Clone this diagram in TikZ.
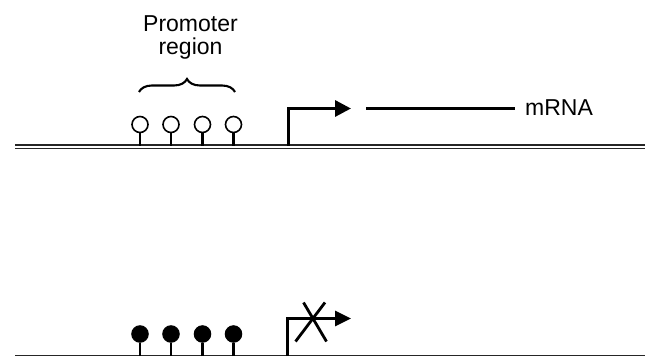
\documentclass[tikz,border=0pt]{standalone}
\usepackage{fontspec}
\setmainfont{Liberation Sans}
\usetikzlibrary{arrows.meta,decorations.pathreplacing}
\begin{document}
\begin{tikzpicture}[x=1pt,y=-1pt,
  dnarule/.style={line width=1.1pt, black!85},
  stem/.style={line width=2.2pt},
  openlolly/.style={circle, draw, line width=1.6pt, minimum size=16pt, inner sep=0pt, fill=white},
  filllolly/.style={circle, fill=black, draw, line width=1pt, minimum size=16.5pt, inner sep=0pt},
  promoter/.style={line width=3.2pt, -{Triangle[length=16pt,width=16pt]}},
  lbl/.style={font=\fontsize{23}{27}\selectfont, inner sep=0pt}]
\useasboundingbox (0,0) rectangle (645,358);
% top DNA
\coordinate (tl1) at (15,145); \coordinate (tr1) at (645,145);
\coordinate (tl2) at (15,148.4); \coordinate (tr2) at (645,148.4);
\draw[dnarule] (tl1) -- (tr1);
\draw[dnarule] (tl2) -- (tr2);
% text and brace
\node[lbl] (prom) at (190.5,24) {Promoter};
\node[lbl] (reg) at (190.5,49) {region};
\coordinate (bl) at (139,92); \coordinate (br) at (235,92);
\draw[line width=2.1pt, decorate, decoration={brace, amplitude=13pt}] (bl) -- (br);
% open lollipops
\foreach \i/\x in {1/140,2/171,3/202.5,4/233.5}{
  \coordinate (ob\i) at (\x,146);
  \node[openlolly] (oc\i) at (\x,124.5) {};
  \draw[stem] (ob\i) -- (oc\i.south);
}
% promoter arrow top
\coordinate (pa0) at (288.3,146);
\coordinate (pa1) at (288.3,108.5);
\coordinate (pa2) at (351,108.5);
\draw[promoter] (pa0) -- (pa1) -- (pa2);
% mRNA
\node[lbl, anchor=west] (mrna) at (525,107.5) {mRNA};
\coordinate (m0) at (366,108.5);
\coordinate (m1) at (515,108.5);
\draw[line width=3.8pt] (m0) -- (m1);
% bottom DNA
\coordinate (bl1) at (15,355.8); \coordinate (br1) at (645,355.8);
\draw[dnarule, line width=1.3pt] (bl1) -- (br1);
\foreach \i/\x in {1/140,2/171,3/202.5,4/233.5}{
  \coordinate (fb\i) at (\x,356);
  \node[filllolly] (fc\i) at (\x,334) {};
  \draw[stem] (fb\i) -- (fc\i.south);
}
\coordinate (qa0) at (287.3,356);
\coordinate (qa1) at (287.3,318.5);
\coordinate (qa2) at (351,318.5);
\draw[line width=3.2pt, -{Triangle[length=16pt,width=15pt]}] (qa0) -- (qa1) -- (qa2);
\coordinate (x1) at (303.5,302.5); \coordinate (x2) at (326.5,341.5);
\coordinate (x3) at (325,302.5); \coordinate (x4) at (295.5,341.5);
\draw[line width=2.8pt] (x1) -- (x2);
\draw[line width=2.8pt] (x3) -- (x4);
\end{tikzpicture}
\end{document}
